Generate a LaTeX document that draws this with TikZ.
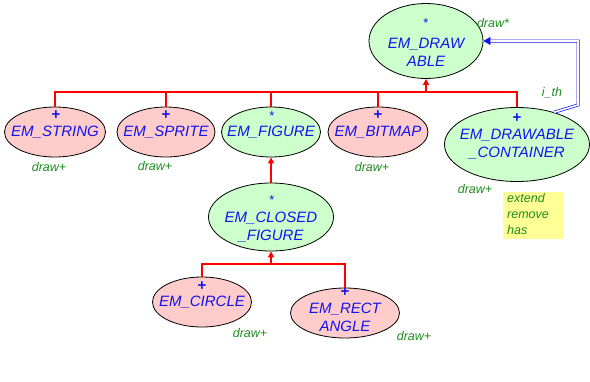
\documentclass[tikz,border=0pt]{standalone}
\usepackage{fontspec}
\setmainfont{Liberation Sans}
\usetikzlibrary{shapes.geometric,arrows.meta}
\definecolor{clsblue}{RGB}{20,20,235}
\definecolor{featgreen}{RGB}{30,140,30}
\definecolor{effpink}{RGB}{255,204,204}
\definecolor{defgreen}{RGB}{204,255,204}
\definecolor{notey}{RGB}{255,255,150}
\tikzset{
  cls/.style={ellipse, draw=black, line width=0.8pt, inner sep=0pt},
  eff/.style={cls, fill=effpink},
  deferred/.style={cls, fill=defgreen},
  clsname/.style={text=clsblue, font=\fontsize{15}{18}\selectfont\itshape, align=center, inner sep=0pt},
  effmark/.style={text=clsblue, font=\fontsize{15}{18}\selectfont\bfseries, inner sep=0pt},
  defmark/.style={text=clsblue, font=\fontsize{13}{16}\selectfont, inner sep=0pt},
  feat/.style={text=featgreen, font=\fontsize{12.5}{15}\selectfont\itshape, inner sep=0pt},
  inherit/.style={draw=red, line width=1.6pt},
  inheritarrow/.style={inherit, -{Triangle[length=6pt,width=6pt]}},
  client/.style={draw=clsblue, double=white, double distance=1.6pt, line width=0.7pt, -{Triangle[length=7pt,width=8pt]}},
}
\begin{document}
\begin{tikzpicture}[x=1pt,y=-1pt]
\useasboundingbox (0,0) rectangle (590,381);

% class ellipses
\node[deferred, minimum width=114pt, minimum height=75pt] (drawable) at (426,41) {};
\node[eff, minimum width=101pt, minimum height=50pt] (string) at (55,132) {};
\node[eff, minimum width=98pt, minimum height=50pt] (sprite) at (166,132) {};
\node[deferred, minimum width=99pt, minimum height=50pt] (figure) at (271,132) {};
\node[eff, minimum width=100pt, minimum height=50pt] (bitmap) at (378,132) {};
\node[deferred, minimum width=145pt, minimum height=74pt] (container) at (517,144.5) {};
\node[deferred, minimum width=125pt, minimum height=68pt] (closed) at (271,217) {};
\node[eff, minimum width=99pt, minimum height=50pt] (circle) at (202,302) {};
\node[eff, minimum width=109pt, minimum height=50pt] (rect) at (345,313) {};

% class names
\node[clsname] (drawablet) at (426,52) {EM\_DRAW\\ABLE};
\node[clsname] (stringt) at (55,132) {EM\_STRING};
\node[clsname] (spritet) at (166,132) {EM\_SPRITE};
\node[clsname] (figuret) at (271,132) {EM\_FIGURE};
\node[clsname] (bitmapt) at (378,132) {EM\_BITMAP};
\node[clsname] (containert) at (517,144.5) {EM\_DRAWABLE\\\_CONTAINER};
\node[clsname] (closedt) at (271,227) {EM\_CLOSED\\\_FIGURE};
\node[clsname] (circlet) at (202,302) {EM\_CIRCLE};
\node[clsname] (rectt) at (345,317) {EM\_RECT\\ANGLE};

% deferred (*) and effective (+) markers
\node[defmark] (drawablem) at (426,23) {*};
\node[effmark] (stringm) at (56,115) {+};
\node[effmark] (spritem) at (166,115) {+};
\node[defmark] (figurem) at (272,116) {*};
\node[effmark] (bitmapm) at (378,115) {+};
\node[effmark] (containerm) at (517,118) {+};
\node[defmark] (closedm) at (272,200) {*};
\node[effmark] (circlem) at (202,286) {+};
\node[effmark] (rectm) at (345,292) {+};

% feature labels
\node[feat] (drawablef) at (493,23) {draw*};
\node[feat] (stringf) at (49,167) {draw+};
\node[feat] (spritef) at (155,166) {draw+};
\node[feat] (bitmapf) at (372,167) {draw+};
\node[feat] (containerf) at (475,189) {draw+};
\node[feat] (circlef) at (250,333) {draw+};
\node[feat] (rectf) at (414,336) {draw+};
\node[feat] (ith) at (552,93) {i\_th};

% note with container features
\node[fill=notey, minimum width=60pt, minimum height=47pt, anchor=north west, inner sep=0pt] (note) at (503,192) {};
\node[feat, align=left, anchor=north west, font=\fontsize{12.5}{16}\selectfont\itshape] (notet) at (507,193) {extend\\remove\\has};

% inheritance links to EM_DRAWABLE
\coordinate (bus1) at (426,92);
\foreach \c in {string,sprite,figure,bitmap,container}
  \draw[inherit] (\c.north) |- (bus1);
\draw[inheritarrow] (bus1) -- (drawable.south);

% inheritance links to EM_FIGURE and EM_CLOSED_FIGURE
\draw[inheritarrow] (closed.north) -- (figure.south);
\coordinate (bus2) at (271,264);
\foreach \c in {circle,rect}
  \draw[inherit] (\c.north) |- (bus2);
\draw[inheritarrow] (bus2) -- (closed.south);

% client link from the container back to EM_DRAWABLE
\coordinate (bend) at (578,105);
\draw[client] (container.41) -- (bend) |- (drawable.east);
\end{tikzpicture}
\end{document}
